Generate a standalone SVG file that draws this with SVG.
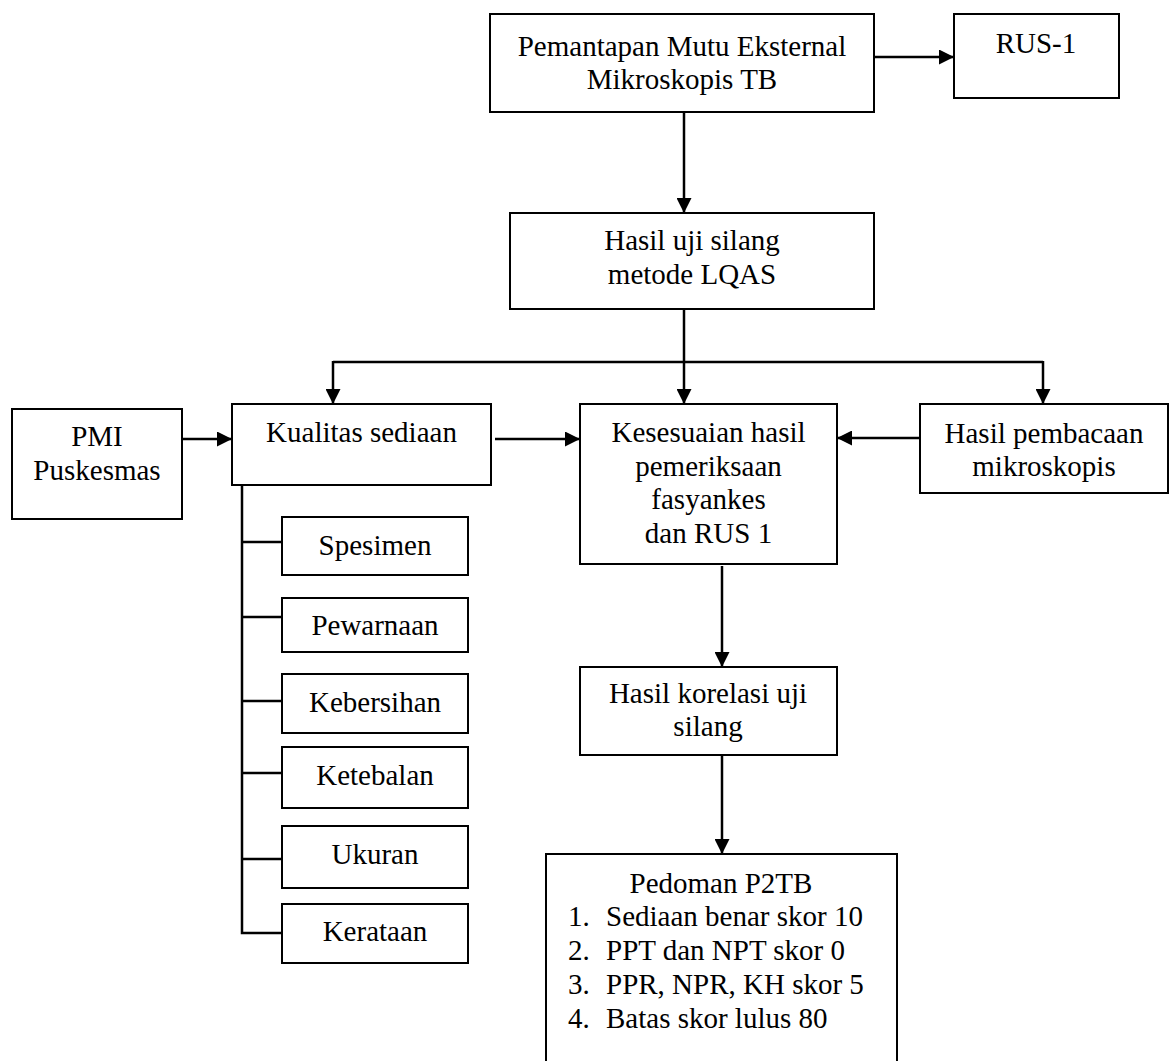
<svg xmlns="http://www.w3.org/2000/svg" width="1170" height="1061" viewBox="0 0 1170 1061">
<style>
.box{fill:#fff;stroke:#000;stroke-width:2}
.t{font-family:"Liberation Serif","Times New Roman",serif;font-size:29px;fill:#000}
.c{text-anchor:middle}
.ln{fill:none;stroke:#000;stroke-width:2.5}
</style>
<defs>
<marker id="ah" markerUnits="userSpaceOnUse" markerWidth="15" markerHeight="15" refX="15" refY="7.5" orient="auto">
<path d="M0,0 L15,7.5 L0,15 z" fill="#000"/>
</marker>
</defs>
<rect width="1170" height="1061" fill="#fff"/>
<g id="connectors">
<line class="ln" x1="874" y1="57" x2="954" y2="57" marker-end="url(#ah)"/>
<line class="ln" x1="684" y1="112" x2="684" y2="213" marker-end="url(#ah)"/>
<line class="ln" x1="684" y1="309" x2="684" y2="404" marker-end="url(#ah)"/>
<line class="ln" x1="333" y1="362" x2="1043" y2="362"/>
<line class="ln" x1="333" y1="361" x2="333" y2="404" marker-end="url(#ah)"/>
<line class="ln" x1="1043" y1="361" x2="1043" y2="404" marker-end="url(#ah)"/>
<line class="ln" x1="182" y1="439" x2="232" y2="439" marker-end="url(#ah)"/>
<line class="ln" x1="495" y1="439" x2="580" y2="439" marker-end="url(#ah)"/>
<line class="ln" x1="920" y1="438" x2="837" y2="438" marker-end="url(#ah)"/>
<line class="ln" x1="722" y1="566" x2="722" y2="667" marker-end="url(#ah)"/>
<line class="ln" x1="722" y1="755" x2="722" y2="854" marker-end="url(#ah)"/>
<path class="ln" d="M242,485 V933 H282 M242,542 H282 M242,617 H282 M242,701 H282 M242,773 H282 M242,859 H282"/>
</g>
<g id="n-pme"><rect class="box" x="490" y="14" width="384" height="98"/>
<text class="t c" x="682" y="56">Pemantapan Mutu Eksternal</text>
<text class="t c" x="682" y="89">Mikroskopis TB</text></g>
<g id="n-rus1"><rect class="box" x="954" y="14" width="165" height="84"/>
<text class="t c" x="1036" y="53">RUS-1</text></g>
<g id="n-hasiluji"><rect class="box" x="510" y="213" width="364" height="96"/>
<text class="t c" x="692" y="250">Hasil uji silang</text>
<text class="t c" x="692" y="284">metode LQAS</text></g>
<g id="n-pmi"><rect class="box" x="12" y="409" width="170" height="110"/>
<text class="t c" x="97" y="446">PMI</text>
<text class="t c" x="97" y="480">Puskesmas</text></g>
<g id="n-kualitas"><rect class="box" x="232" y="404" width="259" height="81"/>
<text class="t c" x="361.5" y="442">Kualitas sediaan</text></g>
<g id="n-kesesuaian"><rect class="box" x="580" y="404" width="257" height="160"/>
<text class="t c" x="708.5" y="442">Kesesuaian hasil</text>
<text class="t c" x="708.5" y="475.5">pemeriksaan</text>
<text class="t c" x="708.5" y="509">fasyankes</text>
<text class="t c" x="708.5" y="543">dan RUS 1</text></g>
<g id="n-pembacaan"><rect class="box" x="920" y="404" width="248" height="89"/>
<text class="t c" x="1044" y="443">Hasil pembacaan</text>
<text class="t c" x="1044" y="476">mikroskopis</text></g>
<g id="n-spesimen"><rect class="box" x="282" y="517" width="186" height="58"/>
<text class="t c" x="375" y="555">Spesimen</text></g>
<g id="n-pewarnaan"><rect class="box" x="282" y="598" width="186" height="54"/>
<text class="t c" x="375" y="635">Pewarnaan</text></g>
<g id="n-kebersihan"><rect class="box" x="282" y="674" width="186" height="59"/>
<text class="t c" x="375" y="712">Kebersihan</text></g>
<g id="n-ketebalan"><rect class="box" x="282" y="747" width="186" height="61"/>
<text class="t c" x="375" y="785">Ketebalan</text></g>
<g id="n-ukuran"><rect class="box" x="282" y="826" width="186" height="62"/>
<text class="t c" x="375" y="864">Ukuran</text></g>
<g id="n-kerataan"><rect class="box" x="282" y="904" width="186" height="59"/>
<text class="t c" x="375" y="941">Kerataan</text></g>
<g id="n-korelasi"><rect class="box" x="580" y="667" width="257" height="88"/>
<text class="t c" x="708" y="703">Hasil korelasi uji</text>
<text class="t c" x="708" y="736">silang</text></g>
<g id="n-pedoman"><rect class="box" x="546" y="854" width="351" height="230"/>
<text class="t c" x="721" y="893">Pedoman P2TB</text>
<text class="t" x="568" y="926">1.</text><text class="t" x="606" y="926">Sediaan benar skor 10</text>
<text class="t" x="568" y="960">2.</text><text class="t" x="606" y="960">PPT dan NPT skor 0</text>
<text class="t" x="568" y="994">3.</text><text class="t" x="606" y="994">PPR, NPR, KH skor 5</text>
<text class="t" x="568" y="1028">4.</text><text class="t" x="606" y="1028">Batas skor lulus 80</text></g>
</svg>
